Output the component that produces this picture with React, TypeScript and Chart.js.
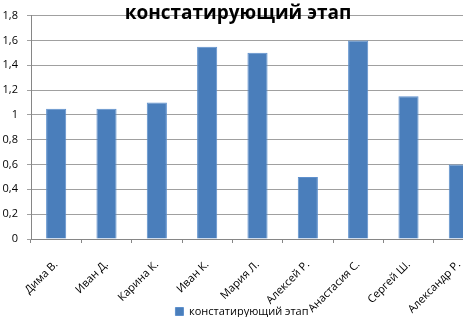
import React, { useEffect, useRef } from "react";
import { Chart, registerables } from "chart.js";

Chart.register(...registerables);

const categories = [
  "Дима В.",
  "Иван Д.",
  "Карина К.",
  "Иван К.",
  "Мария Л.",
  "Алексей Р.",
  "Анастасия С.",
  "Сергей Ш.",
  "Александр Р.",
];
const seriesName = "констатирующий этап";
const seriesValues = [1.05, 1.05, 1.1, 1.55, 1.5, 0.5, 1.6, 1.15, 0.6];
const chartTitle = "констатирующий этап";
const yMin = 0;
const yMax = 1.8;
const yStep = 0.2;

const FONT = "'Open Sans', 'DejaVu Sans', sans-serif";

const titlePlugin = {
  id: "overlayTitle",
  afterDraw(chart: any) {
    const ctx = chart.ctx;
    ctx.save();
    ctx.font = `bold 19px ${FONT}`;
    ctx.fillStyle = "#000";
    ctx.textAlign = "center";
    ctx.textBaseline = "middle";
    ctx.fillText(chartTitle, 238, 14);
    ctx.restore();
  },
};

export default function App() {
  const ref = useRef<HTMLCanvasElement>(null);
  useEffect(() => {
    if (!ref.current) return;
    const chart = new Chart(ref.current, {
      type: "bar",
      data: {
        labels: categories,
        datasets: [
          {
            label: seriesName,
            data: seriesValues,
            backgroundColor: "#4A7EBB",
            borderColor: "#5E90CD",
            borderWidth: 1,
            categoryPercentage: 1,
            barPercentage: 0.4,
          },
        ],
      },
      options: {
        animation: false,
        responsive: false,
        devicePixelRatio: 1,
        layout: { padding: { top: 0, right: 16, bottom: 0, left: 0 } },
        plugins: {
          title: { display: false },
          tooltip: { enabled: false },
          legend: {
            position: "bottom",
            labels: {
              font: { family: FONT, size: 11 },
              color: "#000",
              boxWidth: 8,
              boxHeight: 8,
              padding: 0,
            },
          },
        },
        scales: {
          x: {
            grid: {
              drawOnChartArea: false,
              offset: true,
              tickLength: 4,
              color: "#868686",
            },
            border: { color: "#868686" },
            ticks: {
              font: { family: FONT, size: 11 },
              color: "#000",
              minRotation: 45,
              maxRotation: 45,
              autoSkip: false,
              padding: 15,
            },
            afterFit: (scale: any) => {
              scale.height = 67;
              // let rotated labels run into the legend row, as in the reference
              scale._computeLabelArea = () => undefined;
            },
          },
          y: {
            min: yMin,
            max: yMax,
            grid: { color: "#A0A0A0", tickLength: 4 },
            border: { color: "#868686" },
            ticks: {
              stepSize: yStep,
              font: { family: FONT, size: 11 },
              color: "#000",
              padding: 9,
              callback: (v: any) => String(Math.round(Number(v) * 10) / 10).replace(".", ","),
            },
            afterFit: (scale: any) => {
              scale.width = 31;
            },
          },
        },
      },
      plugins: [titlePlugin],
    });
    return () => chart.destroy();
  }, []);
  return (
    <div
      style={{
        position: "fixed",
        left: 0,
        top: 0,
        width: 463,
        height: 317,
        overflow: "hidden",
        background: "#fff",
      }}
    >
      <canvas ref={ref} width={500} height={327} style={{ width: 500, height: 327, display: "block" }} />
    </div>
  );
}
